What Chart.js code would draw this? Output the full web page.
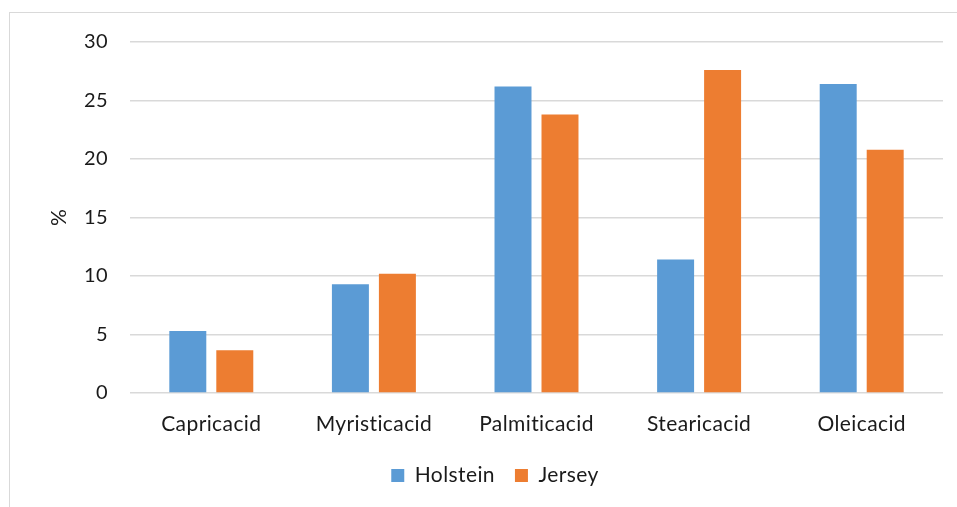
<!DOCTYPE html>
<html>
<head>
<meta charset="utf-8">
<script src="https://cdn.jsdelivr.net/npm/chart.js@4/dist/chart.umd.min.js"></script>
<style>
  html, body { margin: 0; padding: 0; background: #fff; }
  #wrap { position: relative; width: 957px; height: 507px; overflow: hidden; }
  #frame { position: absolute; left: 9px; top: 12px; width: 1100px; height: 700px;
           border: 1px solid #d9d9d9; box-sizing: border-box; }
  canvas { position: absolute; left: 0; top: 0; }
</style>
</head>
<body>
<div id="wrap">
  <div id="frame"></div>
  <canvas id="c" width="957" height="507"></canvas>
</div>
<script>
// Fatty acid composition of milk fat, by breed
const categories = ['Capricacid', 'Myristicacid', 'Palmiticacid', 'Stearicacid', 'Oleicacid'];
const holstein = [5.3, 9.3, 26.2, 11.4, 26.4];
const jersey = [3.65, 10.2, 23.8, 27.6, 20.8];
const yTicks = [0, 5, 10, 15, 20, 25, 30];

const FONT = 'Lato, "Open Sans", sans-serif';
const TEXT = '#1a1a1a';
const GRID = '#d9d9d9';

// slight letter spacing keeps glyphs separate (no "ti" ligature)
const spacing = {
  id: 'spacing',
  beforeLayout(chart) { chart.ctx.letterSpacing = '0.4px'; },
  beforeDraw(chart) { chart.ctx.letterSpacing = '0.4px'; }
};

new Chart(document.getElementById('c'), {
  type: 'bar',
  data: {
    labels: categories,
    datasets: [
      { label: 'Holstein', data: holstein, backgroundColor: '#5B9BD5',
        categoryPercentage: 0.578, barPercentage: 0.787 },
      { label: 'Jersey', data: jersey, backgroundColor: '#ED7D31',
        categoryPercentage: 0.578, barPercentage: 0.787 }
    ]
  },
  plugins: [spacing],
  options: {
    responsive: false,
    animation: false,
    devicePixelRatio: 1,
    layout: { padding: { left: 47, right: 14, top: 42, bottom: 11 } },
    plugins: {
      tooltip: { enabled: false },
      legend: {
        position: 'bottom',
        labels: {
          boxWidth: 13, boxHeight: 13, padding: 20,
          color: TEXT, font: { family: FONT, size: 21 }
        }
      }
    },
    scales: {
      x: {
        grid: { display: false },
        border: { display: false },
        ticks: { color: TEXT, font: { family: FONT, size: 21 }, padding: 11, maxRotation: 0 },
        afterFit: (s) => { s.height = 52; }
      },
      y: {
        min: 0, max: 30,
        afterBuildTicks: (s) => { s.ticks = yTicks.map(v => ({ value: v })); },
        grid: { color: GRID, lineWidth: 1.5, drawTicks: false },
        border: { display: false },
        ticks: { color: TEXT, font: { family: FONT, size: 20 }, padding: 22 },
        title: { display: true, text: '%', color: TEXT, font: { family: FONT, size: 21 },
                 padding: { top: 0, bottom: 0 } },
        afterFit: (s) => { s.width = 83; }
      }
    }
  }
});
</script>
</body>
</html>
